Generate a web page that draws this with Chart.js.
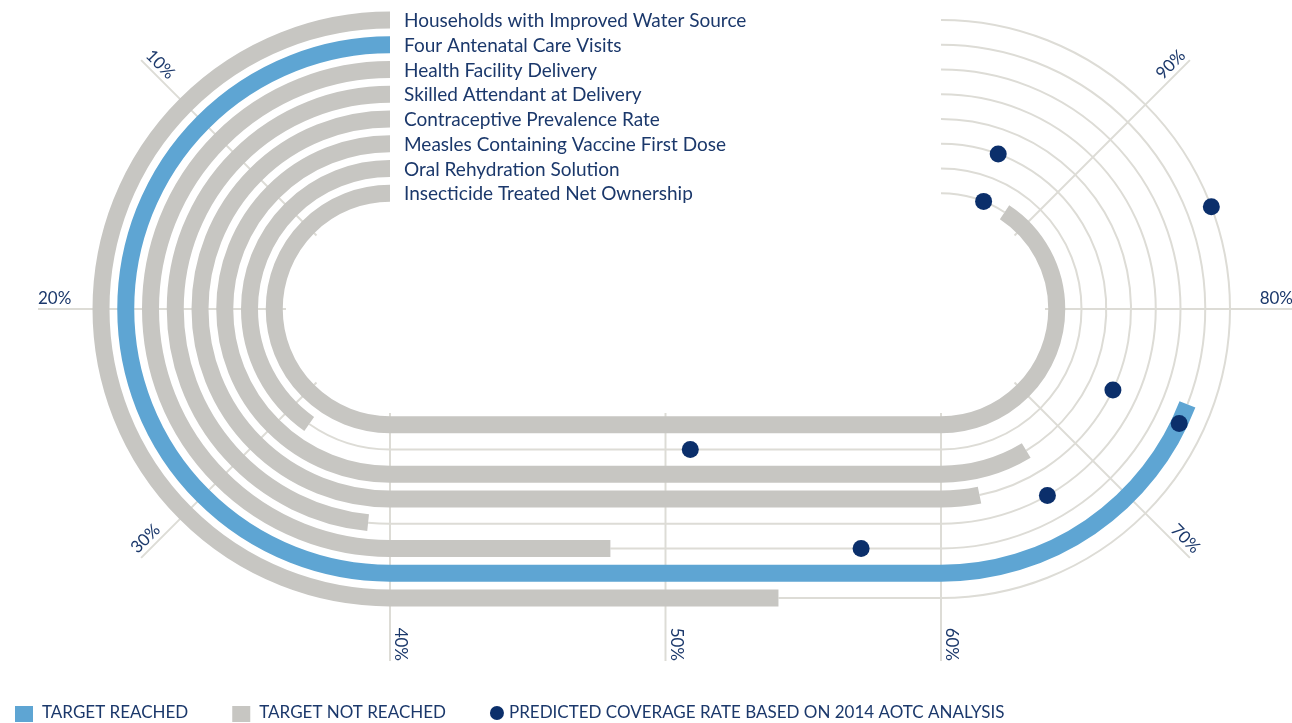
<!DOCTYPE html>
<html>
<head>
<meta charset="utf-8">
<title>Coverage race track</title>
<script src="https://cdn.jsdelivr.net/npm/chart.js@4.4.1/dist/chart.umd.min.js"></script>
<style>
  html, body { margin: 0; padding: 0; background: #fff; }
  canvas { display: block; }
</style>
</head>
<body>
<canvas id="trackChart" width="1292" height="723"></canvas>
<script>
var indicators = [
    'Households with Improved Water Source',
    'Four Antenatal Care Visits',
    'Health Facility Delivery',
    'Skilled Attendant at Delivery',
    'Contraceptive Prevalence Rate',
    'Measles Containing Vaccine First Dose',
    'Oral Rehydration Solution',
    'Insecticide Treated Net Ownership'
];
var coverage = [54.1, 75.3, 48.0, 38.7, 62.6, 66.9, 32.2, 92.6];
var targetReached = [false, true, false, false, false, false, false, false];
var predicted = [84.6, 74.3, 57.1, 66.6, 74.4, 95.5, 50.9, 95.2];

var tickValues = [10, 20, 30, 40, 50, 60, 70, 80, 90];
var tickLabels = ['10%', '20%', '30%', '40%', '50%', '60%', '70%', '80%', '90%'];
var legendLabels = ['TARGET REACHED', 'TARGET NOT REACHED', 'PREDICTED COVERAGE RATE BASED ON 2014 AOTC ANALYSIS'];

var BLUE = '#5ea5d3';
var GREY = '#c7c6c2';
var GUIDE = '#dddcd6';
var NAVY = '#0b2f6b';
var TEXT = '#1b386b';
var FONT = 'Lato, "Open Sans", sans-serif';

// layout of the track, in scale units (0-40% left bend, 40-60% straight, 60-100% right bend)
var track = { left: 390, right: 941, cy: 309, outer: 289, gap: 24.75, width: 17, gridIn: 104, gridOut: 352 };

function radius(i) {
    return track.outer - i * track.gap;
}

// position of a percentage on track i (or on radius r)
function trackPoint(i, pct, r) {
    if (r === undefined) r = radius(i);
    if (pct <= 40) {
        var a = pct / 40 * Math.PI;
        return { x: track.left - r * Math.sin(a), y: track.cy - r * Math.cos(a) };
    }
    if (pct <= 60) {
        return { x: track.left + (pct - 40) / 20 * (track.right - track.left), y: track.cy + r };
    }
    var b = (pct - 60) / 40 * Math.PI;
    return { x: track.right + r * Math.sin(b), y: track.cy + r * Math.cos(b) };
}

function toPixel(chart, p) {
    return { x: chart.scales.x.getPixelForValue(p.x), y: chart.scales.y.getPixelForValue(p.y) };
}

function tracePath(chart, i, from, to) {
    var ctx = chart.ctx, xs = chart.scales.x, ys = chart.scales.y;
    var r = radius(i);
    var rx = Math.abs(xs.getPixelForValue(track.left + r) - xs.getPixelForValue(track.left));
    var ry = Math.abs(ys.getPixelForValue(track.cy + r) - ys.getPixelForValue(track.cy));
    var lx = xs.getPixelForValue(track.left);
    var rcx = xs.getPixelForValue(track.right);
    var cy = ys.getPixelForValue(track.cy);
    ctx.beginPath();
    if (from < 40) {
        ctx.ellipse(lx, cy, rx, ry, 0,
            -Math.PI / 2 - from / 40 * Math.PI,
            -Math.PI / 2 - Math.min(to, 40) / 40 * Math.PI, true);
    }
    if (to > 40 && from < 60) {
        var p0 = toPixel(chart, trackPoint(i, Math.max(from, 40)));
        var p1 = toPixel(chart, trackPoint(i, Math.min(to, 60)));
        ctx.lineTo(p0.x, p0.y);
        ctx.lineTo(p1.x, p1.y);
    }
    if (to > 60) {
        var s = Math.max(from, 60);
        ctx.ellipse(rcx, cy, rx, ry, 0,
            Math.PI / 2 - (s - 60) / 40 * Math.PI,
            Math.PI / 2 - (to - 60) / 40 * Math.PI, true);
    }
}

var raceTrack = {
    id: 'raceTrack',
    beforeDatasetsDraw: function(chart) {
        var ctx = chart.ctx;
        ctx.save();
        ctx.lineCap = 'butt';

        // scale lines
        ctx.strokeStyle = GUIDE;
        ctx.lineWidth = 2;
        tickValues.forEach(function(v) {
            var a = toPixel(chart, trackPoint(0, v, track.gridIn));
            var b = toPixel(chart, trackPoint(0, v, track.gridOut));
            ctx.beginPath();
            ctx.moveTo(a.x, a.y);
            ctx.lineTo(b.x, b.y);
            ctx.stroke();
        });

        // thin lanes to 100%
        indicators.forEach(function(name, i) {
            tracePath(chart, i, coverage[i], 100);
            ctx.stroke();
        });

        // coverage bars
        ctx.lineWidth = track.width;
        indicators.forEach(function(name, i) {
            ctx.strokeStyle = targetReached[i] ? BLUE : GREY;
            tracePath(chart, i, 0, coverage[i]);
            ctx.stroke();
        });
        ctx.restore();
    },
    afterDatasetsDraw: function(chart) {
        var ctx = chart.ctx;
        ctx.save();
        ctx.fillStyle = TEXT;

        // indicator names at the start of each lane
        ctx.font = '19px ' + FONT;
        ctx.textAlign = 'left';
        ctx.textBaseline = 'middle';
        indicators.forEach(function(name, i) {
            var p = toPixel(chart, trackPoint(i, 0));
            ctx.fillText(name, p.x + 14, p.y + 1);
        });

        // percentage ticks
        ctx.font = '17px ' + FONT;
        ctx.textBaseline = 'alphabetic';
        tickValues.forEach(function(v, k) {
            var a = toPixel(chart, trackPoint(0, v, track.gridIn));
            var b = toPixel(chart, trackPoint(0, v, track.gridOut));
            var dir = Math.atan2(b.y - a.y, b.x - a.x);
            var inward = v < 40;
            ctx.save();
            ctx.translate(b.x, b.y);
            ctx.rotate(inward ? dir + Math.PI : dir);
            ctx.textAlign = inward ? 'left' : 'right';
            ctx.fillText(tickLabels[k], 0, -5);
            ctx.restore();
        });

        // legend
        ctx.font = '17px ' + FONT;
        ctx.textAlign = 'left';
        ctx.textBaseline = 'middle';
        var x = 15, y = 713;
        var swatches = [BLUE, GREY, NAVY];
        legendLabels.forEach(function(text, k) {
            ctx.fillStyle = swatches[k];
            if (k < 2) {
                ctx.fillRect(x, y - 7, 18, 16);
                x += 27;
            } else {
                ctx.beginPath();
                ctx.arc(x + 7, y, 7, 0, Math.PI * 2);
                ctx.fill();
                x += 19;
            }
            ctx.fillStyle = TEXT;
            ctx.fillText(text, x, y);
            x += ctx.measureText(text).width + 44;
        });
        ctx.restore();
    }
};

new Chart(document.getElementById('trackChart'), {
    type: 'scatter',
    data: {
        datasets: [{
            label: legendLabels[2],
            data: predicted.map(function(v, i) { return trackPoint(i, v); }),
            backgroundColor: NAVY,
            borderWidth: 0,
            pointRadius: 8.5,
            pointHoverRadius: 8.5
        }]
    },
    options: {
        responsive: false,
        animation: false,
        events: [],
        layout: { padding: 0, autoPadding: false },
        scales: {
            x: { type: 'linear', min: 0, max: 1292, display: false },
            y: { type: 'linear', min: 0, max: 723, reverse: true, display: false }
        },
        plugins: {
            legend: { display: false },
            tooltip: { enabled: false }
        }
    },
    plugins: [raceTrack]
});
</script>
</body>
</html>
